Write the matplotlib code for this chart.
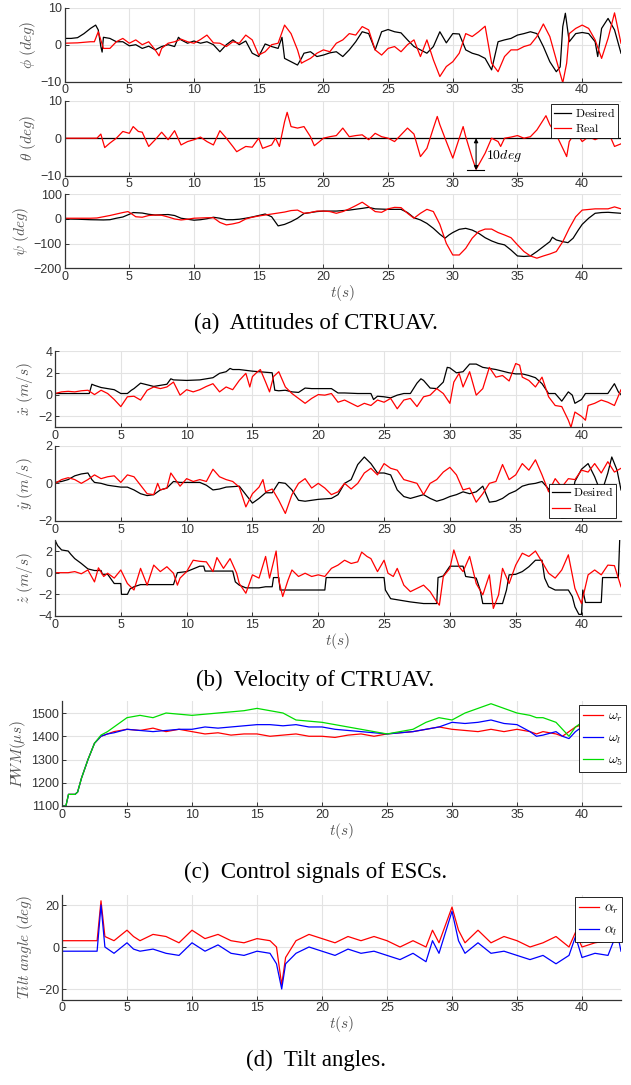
import numpy as np
import matplotlib
matplotlib.use("Agg")
import matplotlib.pyplot as plt

plt.rcParams['mathtext.fontset'] = 'cm'
plt.rcParams['font.family'] = ['Liberation Sans', 'DejaVu Sans']

# ---------------- (a) attitudes ----------------
phi_d_t = [0,0.5,1,1.5,2,2.4,2.6,2.8,2.9,3,3.5,4,4.5,5,5.5,6,6.5,7,7.5,8,8.5,8.8,9,9.5,10,10.5,11,11.5,12,12.5,13,13.5,14,14.5,15,15.5,16,16.5,16.8,17,17.5,18,18.3,18.5,19,19.5,
           20,20.5,21,21.5,22,22.5,23,23.5,24,24.5,25,25.5,26,26.5,27,27.5,28,28.5,29,29.5,30,30.5,31,31.5,32,32.5,33,33.5,34,34.5,35,35.5,36,36.5,37,37.5,38,38.3,38.5,38.7,39,39.5,40,40.5,41,41.2,41.5,42,42.5,43]
phi_d = [1.7,1.7,1.9,3,4.4,5.3,4,-0.5,-2,2,1.7,0.8,0.8,-0.3,0,-1,-0.4,-1.4,-0.5,0,-0.5,2,1.3,0.4,1,0.4,0.8,0,-1.9,0,1.3,0,1,-2.3,-3.2,0.2,-0.5,-1,2,-3.7,-4.6,-5.5,-3.7,-2.3,-1.9,-3.2,
         -2.8,-2.2,-1.9,-3.2,-1.4,0.8,3.5,3,-1.4,3.5,4.1,3.5,3.2,1.3,-0.5,-1.4,-2.3,-0.5,3.5,0.5,3,2.9,-1.4,-2.3,-2.8,-3.7,-6.8,0.8,1.3,1.7,2.6,3,3.5,3,-0.5,-4.6,-7.3,-6,4.9,8.5,0.8,3,3.3,3,0.8,-3.2,4.4,7.1,4,-2.3]
phi_r_t = [0,1,2,2.3,2.6,3,3.5,4,4.5,5,5.5,6,6.5,7,7.3,7.5,8,8.5,9,9.5,10,10.5,11,11.5,12,12.5,13,13.5,14,14.5,15,15.5,16,16.5,17,17.5,18,18.3,18.5,19,19.5,
           20,20.5,21,21.5,22,22.5,23,23.5,24,24.5,25,25.5,26,26.5,27,27.5,28,28.5,29,29.5,30,30.5,31,31.5,32,32.5,33,33.5,34,34.5,35,35.5,36,36.5,37,37.5,38,38.5,38.8,39,39.5,40,40.5,41,41.5,42,42.5,43]
phi_r = [0.4,0.5,0.8,0.8,3.5,-1,-1,0.8,1.7,0.4,1.3,0,0.8,-1.4,-3,-1,0.4,0.8,1.5,0.8,0.4,1.4,2.6,0.5,0.4,-0.5,0.8,0.4,2.6,1.3,-2.8,-1.9,0,0.4,5.3,3,-1.4,-5,-4.6,-3.7,-2.3,
         -1.4,-1.9,0.4,1.3,3,2.6,4.9,4,-1.4,-2.8,-1,-0.5,-1.9,0,1.3,-3.2,1.3,-4.1,-8.6,-5.9,-4.6,-2.3,3,2.2,3.5,5,-5,-7.3,-3.2,-1.4,-1.4,-0.5,0,2.2,5.6,2.2,-4.1,-10.3,-5,3,4.4,5.3,4.4,1.3,-3.7,1.7,8.6,0.4]

theta_d_t = [0, 43]
theta_d = [0, 0]
theta_r_t = [0,1,2,2.5,2.8,3.1,3.5,4,4.5,5,5.3,5.7,6,6.5,7,7.5,8,8.5,9,9.5,10,10.5,11,11.5,12,12.5,13,13.3,14,14.5,15,15.3,16,16.3,16.6,17,17.2,17.5,18,18.5,19,19.3,19.7,
             20,20.5,21,21.5,22,22.5,23,23.5,24,24.5,25,25.5,26,26.5,27,27.5,28,28.5,28.8,29,29.5,30,30.5,30.8,31,31.5,31.8,32,32.5,33,33.5,33.7,34,34.5,35,35.5,36,36.5,37,37.2,37.5,38,38.5,38.8,39,39.5,40,40.5,41,41.5,42,42.5,43]
theta_r = [0,0,0,0,1.1,-2.5,-1.3,0,1.8,1.3,3.1,1.8,1.6,-2.2,-0.4,1.6,-0.4,2,-1.8,-0.9,-0.4,0.3,-0.9,-1.8,2,0,-2.2,-3.6,-2.2,-2.4,0,-2.7,-1.8,0,-2.2,4.4,6.9,3.1,2.7,3.1,0.4,-2,-0.9,
           0,0.4,0.7,2.7,0.4,0.7,0.9,-0.4,1.3,0.4,0,-0.9,0.9,2.7,1.1,-4.9,-2.7,2.7,5.8,3.6,-0.9,-5.3,0,3.1,0.4,-5.3,-8.3,-7.1,-4,0,-0.9,-2.2,0,0.3,0.7,0,0.4,2.2,4.9,6,3.6,0.9,-2.7,-4.9,-0.9,1.8,-0.9,0.4,-0.4,0.4,1.8,-2.2,-1.5]

psi_d_t = [0,1,2,3,3.5,4,4.5,5,5.3,6,6.5,7,8,8.5,9,9.5,10,10.5,11,11.5,12,12.5,13,13.5,14,14.5,15,15.5,16,16.5,17,17.5,18,18.5,19,19.5,
           20,21,22,23,23.5,24,25,26,26.5,27,27.5,28,28.5,29,29.4,29.7,30,30.5,31,31.5,32,32.5,33,33.5,34,34.5,35,35.5,36,36.5,37,37.5,37.7,38,38.5,38.9,39.3,39.7,40,40.5,41,41.5,42,43]
psi_d = [0,-1,-3,-4,-3,3,8,19,26,24,19,16,18,14,3,-1,-5,-3,1,7,3,-3,-3,-1,3,8,14,20,9,-28,-22,-11,3,22,26,30,
         32,32,36,43,47,41,39,39,26,5,-4,-18,-38,-62,-78,-65,-55,-42,-38,-45,-58,-76,-89,-99,-105,-126,-150,-152,-150,-132,-112,-92,-74,-85,-92,-96,-78,-45,-22,3,23,26,27,23]
psi_r_t = [0,1,2,2.5,3,3.5,4,4.5,4.9,5.2,5.5,6,6.5,7,7.5,8,8.5,9,9.5,10,11,11.5,12,12.5,13,13.5,14,14.5,15,15.5,16,16.5,17,17.5,18,18.5,19,19.5,
           20,20.5,21,21.5,22,22.5,23,23.5,24,24.5,25,25.5,26,26.5,27,27.5,28,28.5,29,29.5,30,30.5,31,31.5,32,32.5,33,33.5,34,34.5,35,35.5,36,36.5,37,37.5,38,38.5,39,39.5,40,41,42,42.5,43]
psi_r = [3,3,3,4,9,14,20,26,30,20,9,7,14,16,15,8,0,-4,-1,3,5,5,-14,-24,-20,-14,0,7,12,16,20,24,28,34,36,23,26,32,
         32,30,23,30,41,54,68,50,30,27,41,47,46,23,3,23,39,30,-22,-99,-146,-146,-119,-78,-51,-41,-41,-55,-65,-76,-105,-132,-150,-159,-150,-142,-132,-92,-38,9,36,41,41,49,41]

# ---------------- (b) velocity ----------------
vx_d_t = [0,1,2,2.6,2.8,3,3.5,4,4.5,5,5.5,5.8,6,6.5,7,7.5,8,8.5,8.8,9,10,11,11.5,12,12.5,13,13.3,13.5,14,15,16,16.5,16.7,17,17.5,18,18.5,19,19.5,
          20,21,21.5,22,23,24,24.2,24.5,25,25.5,26,26.5,27,27.5,27.8,28,28.5,29,29.5,29.8,30,30.5,31,31.5,32,32.5,33,33.5,34,34.5,35,35.5,36,36.5,37,37.5,38,38.5,39,39.3,39.5,40,40.3,41,42,42.5,42.8,43]
vx_d = [0.1,0.1,0.1,0.1,0.95,0.85,0.65,0.55,0.45,0.1,0.1,0.4,0.55,1.05,0.9,0.75,0.85,0.95,1.45,1.35,1.3,1.35,1.45,1.55,1.95,2.1,2.4,2.3,2.3,2.15,2.05,2,0.4,0.35,0.4,0.25,0.2,0.6,0.55,
        0.55,0.55,0.15,0.15,0.1,0.1,-0.45,-0.15,-0.2,-0.3,-0.05,0.1,0.1,1.05,1.45,1.3,0.6,0.55,1.15,2.5,2.45,2,2.1,2.8,2.8,2.5,2.4,2.3,2.15,2,1.9,1.9,1.75,1.55,1,0.1,0.1,-0.6,0.25,-0.05,-0.8,-0.45,0.1,0.1,0.1,1,0.25,0]
vx_r_t = [0,0.5,1,1.5,2,2.5,3,3.5,4,4.5,5,5.5,6,6.5,7,7.5,8,8.5,9,9.5,10,10.5,11,11.5,12,12.5,13,13.5,14,14.5,14.8,15,15.3,15.6,16,16.3,16.6,17,17.5,18,18.5,19,19.5,
          20,20.5,21,21.5,22,22.5,23,23.5,24,24.5,25,25.5,26,26.5,27,27.5,28,28.5,29,29.5,30,30.3,30.7,31,31.5,32,32.5,33,33.5,34,34.5,35,35.3,35.5,36,36.5,37,37.5,38,38.5,39,39.2,39.5,40,40.3,40.5,41,41.5,42,42.5,43]
vx_r = [0.1,0.25,0.3,0.25,0.35,0.4,0,0.4,0.1,-0.45,-1.1,-0.2,-0.15,-0.5,0.4,0.7,0.55,0.7,1.15,-0.05,0.45,0.25,0.45,0.75,1,0.25,0.7,0.45,1.3,1.95,0.7,1.65,2,2.3,1.15,0.25,1.65,2.1,0.7,0.1,-0.35,-0.8,-0.35,
        0,-0.05,0.1,-0.7,-0.5,-0.8,-1.1,-0.8,-1,-0.5,-0.7,-0.35,-1.3,-0.5,-0.35,-1.1,-0.2,-0.05,0.55,0.1,-0.8,1.15,1.95,0.7,2.1,-0.05,0.55,2.5,1.6,1.75,1.25,2.85,2.7,1.6,1.3,0.7,1.6,-0.2,-1,-1.1,-2.35,-3,-1.6,-2,-2.35,-1,-0.8,-0.5,-0.7,-1,0.45]

vy_d_t = [0,0.5,1,1.5,2,2.5,2.8,3,3.5,4,4.5,5,5.5,6,6.5,7,7.5,8,8.5,9,9.5,10,11,11.5,12,12.5,13,14,14.5,15,15.5,16,16.5,17,17.5,18,18.5,19,
          20,21,21.5,22,22.5,23,23.5,24,24.5,25,25.5,26,26.5,27,27.5,28,28.5,29,29.5,30,30.5,31,31.5,32,32.5,33,33.5,34,34.5,35,35.5,36,36.5,37,37.5,38,38.5,39,39.5,40,40.5,41,41.5,42,42.3,42.7,43]
vy_d = [0.05,0.1,0.2,0.4,0.5,0.55,0.2,0.05,0,-0.1,-0.15,-0.2,-0.2,-0.35,-0.55,-0.65,-0.6,-0.35,-0.25,0.1,0.05,0.05,0.05,-0.1,-0.35,-0.3,-0.2,-0.15,-0.6,-1.05,-0.8,-0.5,-0.5,0.05,0,-0.35,-0.9,-0.95,
        -0.85,-0.8,-0.6,0,0.2,1,1.4,1.05,0.55,0.55,0.45,-0.35,-0.7,-0.8,-0.7,-0.6,-0.8,-0.95,-0.85,-0.7,-0.6,-0.45,-0.55,-0.45,-0.15,-1,-0.95,-0.8,-0.55,-0.4,-0.15,-0.05,0,0.1,-0.3,-1.25,-1.85,-1.8,0.1,0.75,1.05,0.35,-0.55,0.55,1.4,0.7,-0.35]
vy_r_t = [0,0.5,1,1.5,2,2.5,3,3.5,4,4.5,5,5.5,6,6.5,7,7.5,7.8,8,8.5,8.8,9,9.5,10,10.5,11,11.5,12,12.5,13,13.5,14,14.5,15,15.5,15.8,16,16.5,17,17.5,18,18.5,19,19.5,
          20,20.5,21,21.5,22,22.5,23,23.5,24,24.5,25,25.5,26,26.5,27,27.5,28,28.5,29,29.5,30,30.5,31,31.5,32,32.5,33,33.5,34,34.5,35,35.5,36,36.5,37,37.5,38,38.5,39,39.5,40,40.5,41,41.5,42,42.5,43]
vy_r = [0,0.2,0.3,0.2,0,0.2,0.45,0.25,0.35,0.4,0.05,0.45,0.35,-0.1,-0.55,-0.6,0,-0.35,-0.25,0.55,0.35,-0.15,0.25,0.1,0.2,0.1,0.75,0.35,0.2,0.1,-0.2,-1.25,-0.55,-0.2,0.2,-0.45,-0.3,-0.9,-1.6,-0.6,0,0.25,-0.25,
        0,-0.25,-0.6,-0.45,0,-0.3,0,0.55,0.8,0.45,1.05,0.8,0.7,0.2,0.1,0,-0.6,0,0.2,0.6,0.85,0.45,-0.35,-0.25,-1,-0.55,0,0.1,1,0.2,0.45,1.05,0.7,1.25,0.45,-0.45,0.25,-0.2,0.25,0.2,0.7,0.6,1.05,0.55,1.15,0.6,0.8]

vz_d_t = [0,0.2,0.5,1,1.2,1.5,2,2.5,3,3.5,3.6,4,4.5,5,5.05,5.5,5.7,6,6.5,9,9.3,10,10.5,11,11.3,11.4,13.5,13.7,14,14.5,15.5,16,16.5,16.6,17,17.1,20,20.5,20.6,
          25,25.1,25.5,26,27,28,29,29.1,29.5,30,31,31.2,32,32.3,32.5,33,34,34.3,34.5,35,35.5,36,36.5,37,37.2,37.5,38,39,39.3,39.5,39.8,40,40.1,40.3,41,41.5,41.6,42.8,42.9]
vz_d = [3,2.5,2.1,2,1.7,1.3,0.85,0.35,0.2,0.2,-0.15,-0.15,-1,-1,-2,-2,-1.5,-1.3,-1.1,-1.1,0,0.1,0.35,0.6,0.6,0.15,0.15,-0.85,-1.15,-1.4,-1.4,-1.3,-1.3,-0.45,-0.45,-1.6,-1.6,-1.6,-0.45,
        -0.45,-1.6,-2.4,-2.5,-2.7,-2.85,-2.85,-0.45,-0.3,0.6,0.6,-0.35,-0.5,-1.6,-2.85,-2.85,-2.85,-1.6,-0.2,-0.15,0.1,0.55,1.15,1.15,-0.5,-1.3,-1.6,-1.6,-2.2,-3.15,-3.85,-3.85,-1.6,-2.75,-2.75,-2.75,-0.45,-0.45,3]
vz_r_t = [0,1,1.5,2,2.5,3,3.3,3.7,4,4.5,5,5.5,6,6.5,7,7.5,8,8.5,9,9.3,9.5,10,10.5,11,11.5,12,12.3,12.8,13.3,13.8,14,14.5,15,15.5,16,16.3,16.8,17,17.3,17.7,18,18.5,19,19.5,
          20,20.5,21,21.5,22,22.5,23,23.3,23.7,24,24.5,25,25.3,25.7,26,26.5,27,27.5,28,28.5,29,29.2,29.5,30,30.3,30.7,31,31.5,32,32.5,33,33.3,33.7,34,34.5,35,35.5,36,36.5,37,37.5,38,38.5,39,39.5,40,40.5,41,41.5,42,42.5,43]
vz_r = [0,0,0.1,-0.1,0.25,-0.85,0.45,-0.35,-0.05,-0.5,0.25,-1,-1.6,0.4,-1.15,0.7,0.1,0.55,-0.05,-1.15,-0.5,0.1,1.15,1.05,1,0.1,1.4,0.4,1.3,-0.05,-1,-1.9,-0.2,-0.5,1.5,-0.5,2,-0.7,-2.2,-0.7,0.25,-0.35,-0.05,-0.35,
        -0.2,-0.35,0.4,0.7,1.15,0.85,1,1.9,1.5,1.3,0.1,1.15,-0.05,-0.35,0.4,-1.15,-1.75,-1.45,-1.15,-1.75,-2.7,-3,-0.35,0.4,2.1,0.55,0.1,1.5,-1,-2.05,-0.2,-3.3,-2.05,0.4,-1,0.7,1.8,1.5,2,1,-0.05,-0.5,0.25,1.65,-1.45,-2.85,-0.2,0.25,-0.2,0.7,0.65,-1.3]

# ---------------- (c) PWM ----------------
pwm_t = [0,0.3,0.5,1,1.2,1.5,2,2.5,3,3.5,4,5,6,7,8,9,10,11,12,13,14,15,16,17,18,19,20,21,22,23,24,25,26,27,28,29,30,31,32,33,34,35,36,36.5,37,38,38.5,39,39.5,40,40.5,41,41.5,42,42.5,43]
pwm_r = [1100,1100,1150,1150,1160,1220,1300,1370,1400,1410,1420,1430,1425,1435,1420,1430,1420,1410,1415,1405,1410,1410,1400,1405,1410,1400,1400,1395,1405,1410,1400,1410,1415,1420,1430,1440,1430,1425,1420,1430,1420,1430,1420,1410,1420,1410,1400,1420,1440,1450,1430,1470,1440,1400,1430,1340]
pwm_l = [1100,1100,1150,1150,1160,1220,1300,1370,1400,1410,1415,1430,1425,1420,1425,1430,1430,1440,1435,1440,1445,1450,1450,1445,1450,1440,1440,1430,1425,1420,1415,1410,1415,1420,1430,1440,1460,1455,1460,1470,1455,1450,1420,1400,1405,1420,1400,1390,1420,1440,1450,1480,1460,1450,1430,1380]
pwm_5 = [1100,1100,1150,1150,1160,1220,1300,1370,1405,1420,1440,1480,1490,1480,1500,1495,1490,1495,1500,1505,1510,1520,1510,1500,1470,1465,1460,1450,1440,1430,1420,1410,1420,1430,1460,1480,1470,1500,1520,1540,1520,1500,1490,1480,1480,1460,1430,1400,1440,1460,1480,1490,1470,1470,1450,1420]

# ---------------- (d) tilt ----------------
tilt_t = [0,1,2,2.7,3,3.3,4,5,5.5,6,7,8,9,10,11,12,13,14,15,16,16.5,16.9,17.2,18,19,20,21,22,23,24,25,26,27,28,28.5,29,30,30.5,31,32,33,34,35,36,37,38,39,39.5,40,41,42,42.7,43]
alpha_r = [3,3,3,3,22,5,3,8,5,3,6,5,2,8,4,6,3,2,4,3,0,-18,-5,3,6,4,2,5,3,5,3,0,3,0,8,2,19,8,2,8,2,5,3,0,2,5,0,7,0,2,3,12,5]
alpha_l = [-2,-2,-2,-2,20,0,-3,2,-1,-2,-1,-3,-4,2,-2,1,-3,-4,-2,-3,-8,-20,-8,-3,0,-2,-4,-1,-3,-2,-4,-6,-3,-7,3,-3,17,3,-3,2,-3,-2,-4,-6,-4,-8,-4,5,-5,-3,-4,7,-2]

# ---------------- drawing ----------------
W, H = 631, 1085
fig = plt.figure(figsize=(W/100, H/100), dpi=100)

TICKC = '#333333'
LABC = '#555555'
GRIDC = '#e3e3e3'
LW = 0.9
CAP_FS = 16.5

def add_ax(left, top, right, bottom):
    return fig.add_axes([left/W, 1-bottom/H, (right-left)/W, (bottom-top)/H])

def style(ax, ylim, yticks, ylabel, xlabel=None):
    ax.set_xlim(0, 43)
    ax.set_ylim(*ylim)
    ax.set_xticks(range(0, 45, 5))
    ax.set_yticks(yticks)
    ax.grid(True, color=GRIDC, lw=0.8)
    ax.set_axisbelow(True)
    for s in ['top', 'right']:
        ax.spines[s].set_visible(False)
    for s in ['left', 'bottom']:
        ax.spines[s].set_color('#333333')
        ax.spines[s].set_linewidth(0.9)
    ax.tick_params(direction='in', length=3, width=0.7, colors='#333333', labelcolor=TICKC, labelsize=9, pad=2)
    ax.set_ylabel(ylabel, fontsize=11, color=LABC, labelpad=2)
    if xlabel:
        ax.set_xlabel(xlabel, fontsize=11, color=LABC, labelpad=0)

def leg(ax, loc, anchor, fs=8.5, spacing=0.3):
    lg = ax.legend(loc=loc, bbox_to_anchor=anchor, borderaxespad=0, fancybox=False,
                   fontsize=fs, handlelength=1.5, handletextpad=0.3, labelspacing=spacing,
                   borderpad=0.25, framealpha=1)
    lg.get_frame().set_edgecolor('black')
    lg.get_frame().set_linewidth(0.6)
    return lg

# phi
ax = add_ax(64.6, 7.7, 621, 81.7)
ax.plot(phi_d_t, phi_d, color='black', lw=LW)
ax.plot(phi_r_t, phi_r, color='red', lw=LW)
style(ax, (-10, 10), [-10, 0, 10], r'$\phi\ (deg)$')

# theta
ax = add_ax(64.6, 100.7, 621, 175.7)
ax.plot(theta_d_t, theta_d, color='black', lw=LW, label=r'$\mathrm{Desired}$')
ax.plot(theta_r_t, theta_r, color='red', lw=LW, label=r'$\mathrm{Real}$')
style(ax, (-10, 10), [-10, 0, 10], r'$\theta\ (deg)$')
ax.annotate('', xy=(31.8, 0), xytext=(31.8, -8.5),
            arrowprops=dict(arrowstyle='<|-|>', color='black', lw=0.8, mutation_scale=6, shrinkA=0, shrinkB=0))
ax.plot([31.1, 32.4], [-8.6, -8.6], color='black', lw=0.8)
ax.text(32.6, -4.8, r'$10deg$', fontsize=10, va='center', ha='left')
leg(ax, 'upper right', (0.995, 0.96))

# psi
ax = add_ax(64.6, 194.3, 621, 268.3)
ax.plot(psi_d_t, psi_d, color='black', lw=LW)
ax.plot(psi_r_t, psi_r, color='red', lw=LW)
style(ax, (-200, 100), [-200, -100, 0, 100], r'$\psi\ (deg)$', r'$t(s)$')

fig.text(0.5, 1-323/H, '(a)  Attitudes of CTRUAV.', ha='center', va='center',
         family='Liberation Serif', fontsize=CAP_FS)

# x-dot
ax = add_ax(55, 351, 621, 427.3)
ax.plot(vx_d_t, vx_d, color='black', lw=LW)
ax.plot(vx_r_t, vx_r, color='red', lw=LW)
style(ax, (-3, 4), [-2, 0, 2, 4], r'$\dot{x}\ (m/s)$')

# y-dot
ax = add_ax(55, 445.7, 621, 521)
ax.plot(vy_d_t, vy_d, color='black', lw=LW, label=r'$\mathrm{Desired}$')
ax.plot(vy_r_t, vy_r, color='red', lw=LW, label=r'$\mathrm{Real}$')
style(ax, (-2, 2), [-2, 0, 2], r'$\dot{y}\ (m/s)$')
leg(ax, 'lower right', (0.992, 0.04))

# z-dot
ax = add_ax(55, 540.2, 621, 616)
ax.plot(vz_d_t, vz_d, color='black', lw=LW)
ax.plot(vz_r_t, vz_r, color='red', lw=LW)
style(ax, (-4, 3), [-4, -2, 0, 2], r'$\dot{z}\ (m/s)$', r'$t(s)$')

fig.text(0.5, 1-680/H, '(b)  Velocity of CTRUAV.', ha='center', va='center',
         family='Liberation Serif', fontsize=CAP_FS)

# PWM
ax = add_ax(62, 701.4, 621, 806)
ax.plot(pwm_t, pwm_r, color='red', lw=LW, label=r'$\omega_r$')
ax.plot(pwm_t, pwm_l, color='blue', lw=LW, label=r'$\omega_l$')
ax.plot(pwm_t, pwm_5, color='#00dd00', lw=LW, label=r'$\omega_5$')
style(ax, (1100, 1550), [1100, 1200, 1300, 1400, 1500], r'$PWM(\mu s)$', r'$t(s)$')
leg(ax, 'upper right', (1.009, 0.966), fs=10, spacing=0.5)

fig.text(0.5, 1-872/H, '(c)  Control signals of ESCs.', ha='center', va='center',
         family='Liberation Serif', fontsize=CAP_FS)

# tilt
ax = add_ax(62, 894.5, 621, 999.5)
ax.plot(tilt_t, alpha_r, color='red', lw=LW, label=r'$\alpha_r$')
ax.plot(tilt_t, alpha_l, color='blue', lw=LW, label=r'$\alpha_l$')
style(ax, (-25, 25), [-20, 0, 20], r'$Tilt\ angle\ (deg)$', r'$t(s)$')
leg(ax, 'upper right', (1.002, 0.976), fs=10, spacing=0.5)

fig.text(0.5, 1-1060/H, '(d)  Tilt angles.', ha='center', va='center',
         family='Liberation Serif', fontsize=CAP_FS)

fig.savefig('out.png', dpi=100)
